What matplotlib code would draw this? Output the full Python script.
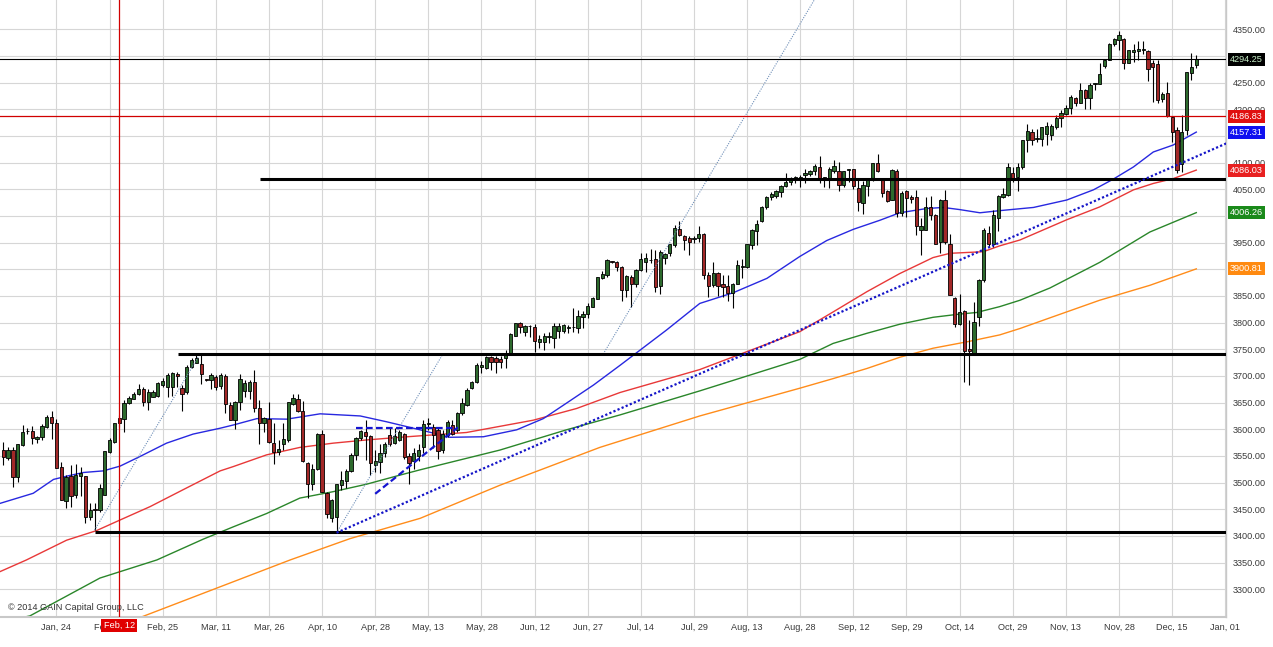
import numpy as np
import matplotlib
matplotlib.use('Agg')
import matplotlib.pyplot as plt

plt.rcParams['font.family'] = ['Liberation Sans', 'DejaVu Sans']

# daily candles (bar index 0..247)
opens = [
    3561, 3547, 3561, 3510, 3570, 3596, 3597, 3581, 3586, 3605,
    3623, 3611, 3530, 3466, 3512, 3477, 3512, 3512, 3436, 3450,
    3448, 3477, 3558, 3577, 3621, 3620, 3649, 3657, 3666, 3676,
    3652, 3661, 3662, 3683, 3680, 3679, 3704, 3678, 3670, 3717,
    3725, 3722, 3694, 3693, 3698, 3681, 3700, 3645, 3617, 3651,
    3672, 3672, 3688, 3639, 3612, 3620, 3575, 3557, 3572, 3580,
    3648, 3656, 3635, 3537, 3498, 3526, 3591, 3481, 3434, 3436,
    3495, 3503, 3521, 3551, 3583, 3595, 3587, 3533, 3539, 3555,
    3589, 3574, 3580, 3591, 3550, 3540, 3550, 3567, 3610, 3605,
    3599, 3562, 3590, 3608, 3599, 3630, 3646, 3677, 3689, 3716,
    3714, 3735, 3734, 3732, 3733, 3741, 3775, 3800, 3783, 3793,
    3792, 3764, 3764, 3773, 3772, 3784, 3784, 3790, 3791, 3789,
    3810, 3816, 3830, 3844, 3883, 3889, 3916, 3913, 3905, 3862,
    3886, 3872, 3898, 3914, 3917, 3920, 3868, 3922, 3931, 3945,
    3976, 3962, 3959, 3957, 3958, 3967, 3889, 3870, 3893, 3873,
    3868, 3855, 3872, 3905, 3904, 3945, 3972, 3991, 4016, 4036,
    4037, 4045, 4056, 4064, 4067, 4068, 4077, 4079, 4085, 4092,
    4071, 4072, 4085, 4085, 4058, 4086, 4089, 4052, 4025, 4056,
    4069, 4099, 4067, 4046, 4030, 4085, 4005, 4046, 4035, 4035,
    3974, 3974, 4016, 4002, 3952, 4030, 3947, 3847, 3797, 3822,
    3750, 3743, 3811, 3880, 3969, 3947, 3996, 4035, 4039, 4080,
    4074, 4092, 4142, 4158, 4145, 4145, 4153, 4151, 4167, 4183,
    4192, 4203, 4222, 4212, 4237, 4222, 4247, 4248, 4281, 4293,
    4322, 4330, 4331, 4287, 4307, 4310, 4312, 4309, 4287, 4285,
    4220, 4231, 4186, 4162, 4097, 4161, 4269, 4283,
]
highs = [
    3577, 3567, 3567, 3573, 3608, 3603, 3606, 3588, 3610, 3627,
    3634, 3619, 3539, 3514, 3533, 3535, 3530, 3512, 3461, 3461,
    3497, 3559, 3583, 3612, 3627, 3655, 3662, 3670, 3685, 3680,
    3675, 3673, 3689, 3697, 3705, 3707, 3708, 3683, 3720, 3733,
    3739, 3739, 3695, 3705, 3701, 3705, 3703, 3651, 3653, 3703,
    3692, 3693, 3711, 3655, 3623, 3651, 3611, 3580, 3611, 3651,
    3667, 3667, 3653, 3539, 3535, 3593, 3598, 3483, 3469, 3497,
    3522, 3526, 3555, 3586, 3598, 3617, 3589, 3561, 3573, 3576,
    3605, 3603, 3598, 3593, 3555, 3565, 3572, 3617, 3621, 3610,
    3602, 3598, 3617, 3617, 3632, 3658, 3677, 3691, 3724, 3728,
    3737, 3737, 3737, 3737, 3749, 3780, 3800, 3802, 3796, 3796,
    3797, 3777, 3781, 3783, 3799, 3800, 3797, 3796, 3827, 3824,
    3821, 3836, 3849, 3886, 3896, 3919, 3916, 3916, 3906, 3889,
    3889, 3900, 3930, 3930, 3939, 3936, 3936, 3931, 3948, 3983,
    3991, 3964, 3962, 3962, 3981, 3968, 3895, 3914, 3895, 3889,
    3889, 3874, 3917, 3920, 3948, 3975, 3993, 4018, 4037, 4045,
    4048, 4058, 4080, 4074, 4075, 4077, 4089, 4087, 4097, 4112,
    4073, 4091, 4105, 4102, 4085, 4089, 4089, 4069, 4066, 4071,
    4100, 4117, 4069, 4048, 4089, 4088, 4046, 4048, 4040, 4048,
    3997, 4035, 4037, 4004, 4031, 4048, 3966, 3849, 3854, 3824,
    3805, 3839, 3881, 3977, 3981, 4011, 4039, 4052, 4099, 4092,
    4100, 4143, 4173, 4164, 4164, 4167, 4176, 4172, 4189, 4198,
    4208, 4226, 4224, 4249, 4239, 4249, 4250, 4286, 4295, 4325,
    4333, 4347, 4333, 4312, 4322, 4328, 4328, 4311, 4293, 4293,
    4233, 4251, 4187, 4166, 4189, 4270, 4305, 4302,
]
lows = [
    3533, 3542, 3492, 3502, 3568, 3592, 3572, 3575, 3580, 3602,
    3581, 3527, 3467, 3453, 3455, 3471, 3474, 3425, 3429, 3411,
    3445, 3477, 3555, 3574, 3605, 3595, 3647, 3656, 3664, 3644,
    3636, 3660, 3660, 3680, 3661, 3662, 3680, 3634, 3667, 3715,
    3724, 3684, 3691, 3675, 3674, 3675, 3630, 3617, 3600, 3636,
    3661, 3656, 3633, 3573, 3595, 3575, 3535, 3552, 3561, 3577,
    3645, 3633, 3539, 3472, 3486, 3523, 3483, 3434, 3426, 3406,
    3486, 3489, 3520, 3542, 3580, 3542, 3515, 3520, 3518, 3548,
    3568, 3572, 3578, 3545, 3497, 3525, 3540, 3555, 3599, 3565,
    3545, 3555, 3585, 3590, 3595, 3627, 3644, 3675, 3686, 3706,
    3713, 3711, 3706, 3714, 3714, 3739, 3774, 3781, 3774, 3773,
    3744, 3752, 3749, 3761, 3753, 3772, 3781, 3781, 3783, 3781,
    3789, 3808, 3829, 3844, 3881, 3886, 3911, 3896, 3841, 3849,
    3830, 3867, 3897, 3895, 3912, 3858, 3853, 3910, 3925, 3942,
    3962, 3937, 3927, 3949, 3952, 3881, 3849, 3867, 3850, 3849,
    3841, 3827, 3872, 3883, 3902, 3939, 3945, 3989, 4014, 4030,
    4033, 4036, 4055, 4058, 4062, 4054, 4061, 4075, 4077, 4061,
    4055, 4052, 4080, 4047, 4054, 4064, 4050, 4010, 4004, 4037,
    4066, 4083, 4035, 4027, 4030, 3999, 4000, 3999, 4025, 3964,
    3927, 3973, 3992, 3947, 3930, 3947, 3852, 3791, 3796, 3689,
    3683, 3739, 3794, 3877, 3942, 3942, 3971, 4033, 4037, 4064,
    4046, 4089, 4120, 4133, 4139, 4131, 4134, 4143, 4164, 4167,
    4189, 4192, 4206, 4211, 4201, 4201, 4236, 4247, 4277, 4292,
    4318, 4312, 4275, 4286, 4289, 4292, 4303, 4253, 4214, 4212,
    4214, 4186, 4139, 4081, 4083, 4151, 4255, 4277,
]
closes = [
    3548, 3561, 3510, 3572, 3595, 3597, 3583, 3586, 3606, 3623,
    3611, 3527, 3467, 3511, 3475, 3514, 3518, 3436, 3448, 3449,
    3489, 3559, 3580, 3611, 3611, 3650, 3659, 3666, 3676, 3652,
    3670, 3670, 3686, 3691, 3701, 3705, 3700, 3667, 3717, 3730,
    3733, 3703, 3692, 3702, 3680, 3701, 3648, 3617, 3651, 3695,
    3687, 3689, 3639, 3612, 3621, 3576, 3558, 3563, 3581, 3651,
    3658, 3635, 3541, 3498, 3526, 3592, 3483, 3441, 3468, 3497,
    3504, 3521, 3551, 3584, 3596, 3587, 3536, 3541, 3555, 3573,
    3573, 3588, 3595, 3548, 3537, 3555, 3562, 3610, 3611, 3589,
    3560, 3592, 3614, 3592, 3630, 3649, 3674, 3689, 3721, 3721,
    3735, 3727, 3726, 3727, 3741, 3779, 3799, 3792, 3794, 3794,
    3766, 3769, 3774, 3774, 3794, 3794, 3796, 3791, 3792, 3812,
    3816, 3831, 3847, 3885, 3891, 3918, 3913, 3905, 3862, 3887,
    3873, 3898, 3920, 3922, 3918, 3867, 3933, 3928, 3947, 3978,
    3964, 3955, 3952, 3958, 3967, 3889, 3869, 3893, 3868, 3867,
    3855, 3872, 3908, 3906, 3947, 3974, 3985, 4016, 4036, 4042,
    4047, 4056, 4064, 4072, 4073, 4073, 4081, 4085, 4094, 4072,
    4072, 4089, 4094, 4058, 4085, 4089, 4057, 4027, 4058, 4069,
    4099, 4085, 4044, 4029, 4087, 4006, 4044, 4033, 4031, 3981,
    3981, 4016, 4002, 3947, 4030, 3952, 3852, 3797, 3819, 3746,
    3746, 3802, 3880, 3974, 3947, 4002, 4037, 4041, 4091, 4072,
    4091, 4142, 4160, 4143, 4145, 4166, 4168, 4168, 4184, 4193,
    4203, 4224, 4212, 4237, 4222, 4245, 4249, 4266, 4292, 4322,
    4331, 4339, 4287, 4311, 4312, 4314, 4312, 4276, 4280, 4218,
    4228, 4187, 4158, 4086, 4158, 4270, 4280, 4294.25,
]

# moving averages, sampled along the curves (bar position, value)
ma_blue_x = [-0.7, 6.2, 10.4, 13.1, 16.6, 20.7, 24.2, 28.3, 33.8, 39.3, 44.9, 47.6,
             52.5, 58.7, 65.6, 73.9, 79.4, 86.3, 92.5, 99.4, 106.3, 111.8, 116.6,
             122.2, 127.7, 137.3, 144.2, 151.1, 158.1, 164.9, 170.5, 176.0, 181.5,
             185.6, 191.2, 194.6, 198.0, 202.2, 206.3, 213.3, 220.2, 225.7, 229.8,
             234.0, 238.1, 242.2, 247]
ma_blue_v = [3461, 3480, 3506, 3512, 3519, 3522, 3531, 3549, 3574, 3591, 3602, 3608,
             3620, 3619, 3629, 3625, 3614, 3599, 3585, 3586, 3599, 3620, 3649,
             3683, 3720, 3786, 3836, 3856, 3883, 3924, 3954, 3975, 3992,
             4006, 4014, 4016, 4012, 4006, 4010, 4016, 4030, 4049, 4069,
             4092, 4120, 4133, 4157.31]
ma_red_x = [-0.7, 4.8, 13.1, 19.3, 24.2, 30.4, 37.3, 44.9, 47.6, 54.5, 61.4, 68.3,
            75.2, 82.1, 95.9, 109.7, 118.7, 127.7, 144.2, 156.7, 164.9, 171.8,
            178.8, 185.6, 192.5, 196.0, 202.9, 206.3, 210.5, 220.2, 227.0, 234.0,
            238.1, 242.2, 247]
ma_red_v = [3333, 3355, 3392, 3410, 3430, 3455, 3487, 3522, 3530, 3552, 3566, 3574,
            3580, 3585, 3594, 3617, 3639, 3669, 3712, 3755, 3783, 3820,
            3858, 3892, 3922, 3930, 3933, 3944, 3955, 3993, 4017, 4049,
            4061, 4070, 4086.03]
ma_green_x = [-0.7, 5.5, 20.0, 31.8, 41.4, 47.6, 54.5, 61.4, 68.3, 75.2, 82.1, 86.3,
              102.8, 116.6, 127.7, 144.2, 164.9, 171.8, 178.8, 185.6, 192.5, 198.0,
              201.5, 206.3, 210.5, 216.7, 227.0, 237.4, 247]
ma_green_v = [3238, 3250, 3321, 3355, 3394, 3417, 3442, 3471, 3483, 3497, 3514, 3524,
              3561, 3599, 3627, 3672, 3731, 3761, 3780, 3797, 3810, 3816,
              3819, 3830, 3842, 3865, 3913, 3970, 4006.26]
ma_orange_x = [26.2, 28.3, 59.4, 71.8, 86.3, 102.8, 123.5, 144.2, 164.9, 171.8,
               178.8, 185.6, 192.5, 199.5, 206.3, 210.5, 216.7, 227.0, 237.4, 247]
ma_orange_v = [3236, 3247, 3355, 3395, 3433, 3495, 3566, 3625, 3677, 3695,
               3714, 3735, 3752, 3764, 3777, 3789, 3809, 3842, 3870, 3900.81]

# drawn studies
level_values = [3407, 3741, 4069]
level_starts = [18.9, 36.1, 53.2]
fan_x = [[18.9, 40.7], [69.0, 91.0], [124.2, 167.9]]
fan_y = [[3411, 3741], [3406, 3741], [3741, 4405]]
trend_x = [69.0, 253.2]
trend_y = [3406, 4136]
tri_top_x = [73.0, 94.2]
tri_top_y = [3603, 3603]
tri_diag_x = [77.0, 93.9]
tri_diag_y = [3479, 3602]
last_price = 4294.25
red_level = 4186.83
marker_bar = 24

tick_pos = [11 * (k + 1) for k in range(23)]
tick_labels = ['Jan, 24', 'Feb, 10', 'Feb, 25', 'Mar, 11', 'Mar, 26', 'Apr, 10',
               'Apr, 28', 'May, 13', 'May, 28', 'Jun, 12', 'Jun, 27', 'Jul, 14',
               'Jul, 29', 'Aug, 13', 'Aug, 28', 'Sep, 12', 'Sep, 29', 'Oct, 14',
               'Oct, 29', 'Nov, 13', 'Nov, 28', 'Dec, 15', 'Jan, 01']
price_ticks = list(range(3300, 4351, 50))
hidden_price_ticks = [3900, 4000, 4300]   # fully covered by the price tags

tags = [(4294.25, '4294.25', 'black', '#c8f0c8'),
        (4186.83, '4186.83', '#e01010', 'white'),
        (4157.31, '4157.31', '#1010f0', 'white'),
        (4086.03, '4086.03', '#e82020', 'white'),
        (4006.26, '4006.26', '#1a8a1a', 'white'),
        (3900.81, '3900.81', '#ff8a10', 'white')]

fig = plt.figure(figsize=(12.73, 6.47), dpi=100)
ax = fig.add_axes([0, 30 / 647, 1226 / 1273, 617 / 647])

o = np.array(opens, float)
h = np.array(highs, float)
l = np.array(lows, float)
c = np.array(closes, float)
idx = np.arange(len(c))
up = c >= o
body_lo = np.minimum(o, c)
body_h = np.maximum(np.abs(c - o), 1.2)
colors = np.where(up, '#2d6a2d', '#a32828')

# moving averages
ax.plot(ma_orange_x, ma_orange_v, color='#ff8c1a', lw=1, zorder=2)
ax.plot(ma_green_x, ma_green_v, color='#2a862a', lw=1, zorder=2)
ax.plot(ma_red_x, ma_red_v, color='#e83838', lw=1, zorder=2)
ax.plot(ma_blue_x, ma_blue_v, color='#2828e0', lw=1, zorder=2)

# candles
ax.vlines(idx, l, h, color='black', lw=0.8, zorder=3)
ax.bar(idx, body_h, bottom=body_lo, width=0.68, color=colors,
       edgecolor='black', linewidth=0.6, zorder=4)

# studies
for x0, y0 in zip(level_starts, level_values):
    ax.plot([x0, 253.2], [y0, y0], color='black', lw=2.2, zorder=6,
            solid_capstyle='butt')
for fx, fy in zip(fan_x, fan_y):
    ax.plot(fx, fy, color='#6f8fb8', lw=0.8, ls=(0, (1, 1.2)), zorder=5)
ax.plot(trend_x, trend_y, color='#1515c8', lw=1.6, ls=(0, (1, 1)), zorder=6)
ax.plot(tri_top_x, tri_top_y, color='#1515d0', lw=1.6, ls=(0, (3, 1.5)), zorder=6)
ax.plot(tri_diag_x, tri_diag_y, color='#1515d0', lw=1.6, ls=(0, (3, 1.5)), zorder=6)
ax.axhline(last_price, color='black', lw=0.8, zorder=5)
ax.axhline(red_level, color='#d00000', lw=0.9, zorder=5)
ax.axvline(marker_bar, color='#d00000', lw=0.9, zorder=5)

ax.set_xlim(-0.68, 253.15)
ax.set_ylim(3248, 4405)

ax.set_xticks(tick_pos)
ax.set_xticklabels(tick_labels)
ax.set_yticks(price_ticks)
ax.set_yticklabels(['' if p in hidden_price_ticks else '%.2f' % p
                    for p in price_ticks])
ax.yaxis.tick_right()
ax.tick_params(axis='y', length=0, pad=5, labelsize=6.6, labelcolor='#3a3a3a')
ax.tick_params(axis='x', length=0, pad=4, labelsize=6.6, labelcolor='#3a3a3a')
ax.grid(True, color='#d6d6d6', lw=0.8)
ax.set_axisbelow(True)

for s in ['top', 'left']:
    ax.spines[s].set_visible(False)
ax.spines['bottom'].set_color('#c8c8c8')
ax.spines['bottom'].set_linewidth(1.5)
ax.spines['right'].set_color('#c8c8c8')
ax.spines['right'].set_linewidth(1)

# price tags on the right axis
for val, txt, bg, fg in tags:
    ax.text(1.0 + 4 / 1226, val, txt, transform=ax.get_yaxis_transform(),
            ha='left', va='center', fontsize=6.6, color=fg, zorder=10,
            clip_on=False,
            bbox=dict(boxstyle='square,pad=0.22', fc=bg, ec='none'))

# date tag under the vertical marker
ax.text(marker_bar, -0.0135, 'Feb, 12', transform=ax.get_xaxis_transform(),
        ha='center', va='center', fontsize=6.6, color='white', zorder=10,
        clip_on=False,
        bbox=dict(boxstyle='square,pad=0.25', fc='#e00000', ec='none'))

ax.text(0.0065, 0.0146, '\u00a9 2014 GAIN Capital Group, LLC',
        transform=ax.transAxes, fontsize=6.6, color='#333333',
        ha='left', va='center', zorder=10)

fig.savefig('out.png', dpi=100)
